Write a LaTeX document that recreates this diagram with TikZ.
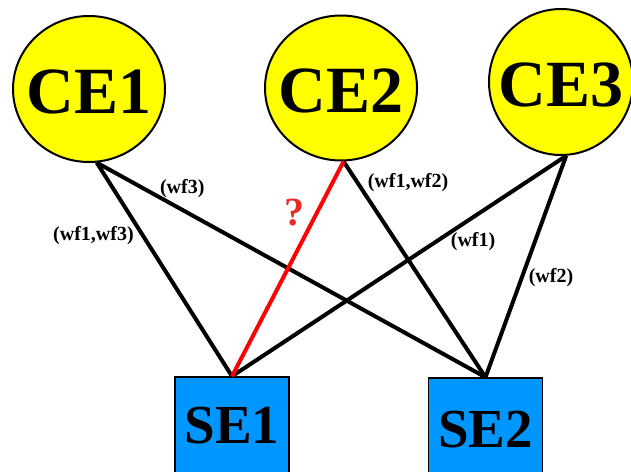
\documentclass[tikz,border=0pt]{standalone}
\usepackage{fontspec}
\setmainfont{Liberation Serif}
\usetikzlibrary{shapes, positioning}

\definecolor{ceyellow}{RGB}{255,255,0}
\definecolor{seblue}{RGB}{0,150,255}
\definecolor{askred}{RGB}{238,40,40}

\begin{document}
\begin{tikzpicture}[
    x=1pt, y=-1pt,
    ce/.style={ellipse, draw=black, fill=ceyellow, line width=2pt, inner sep=0pt, minimum width=152pt, minimum height=146pt, text height=49pt, text depth=0pt, font=\fontsize{66}{66}\selectfont\bfseries},
    se/.style={rectangle, draw=black, fill=seblue, line width=1.5pt, minimum width=114pt, minimum height=104pt, inner sep=0pt, text height=36pt, text depth=7pt, font=\fontsize{55}{55}\selectfont\bfseries},
    link/.style={line width=4pt, draw=black},
    wf/.style={font=\fontsize{20}{20}\selectfont\bfseries, inner sep=2pt}
]
\useasboundingbox (0,0) rectangle (631,471);

% Computing elements
\node[ce] (ce1) at (89,89) {\makebox[0pt]{CE1}};
\node[ce, minimum height=145pt] (ce2) at (341,88) {\makebox[0pt]{CE2}};
\node[ce, minimum width=144pt] (ce3) at (561,82) {\makebox[0pt]{CE3}};

% Storage elements
\node[se] (se1) at (232,429) {SE1};
\node[se, right=138pt of se1, yshift=-1pt, text depth=1pt] (se2) {SE2};

% Links
\draw[link] (ce1.-84) -- (se1.north) node[wf, pos=0.34, left=5pt] {(wf1,wf3)};
\draw[link] (ce1.-84) -- (se2.north) node[wf, pos=0.22, above=8pt] {(wf3)};
\draw[link] (ce2.-88) -- (se2.north) node[wf, pos=0.10, right=6pt] {(wf1,wf2)};
\draw[link] (ce3.-86) -- (se1.north) node[wf, pos=0.39, right=11pt] {(wf1)};
\draw[link] (ce3.-86) -- (se2.north) node[wf, pos=0.55, right=3pt] {(wf2)};
\draw[link, draw=red] (ce2.-88) -- (se1.north) node[wf, pos=0.24, left=8pt, text=askred, font=\fontsize{40}{40}\selectfont\bfseries] {?};

\end{tikzpicture}
\end{document}
